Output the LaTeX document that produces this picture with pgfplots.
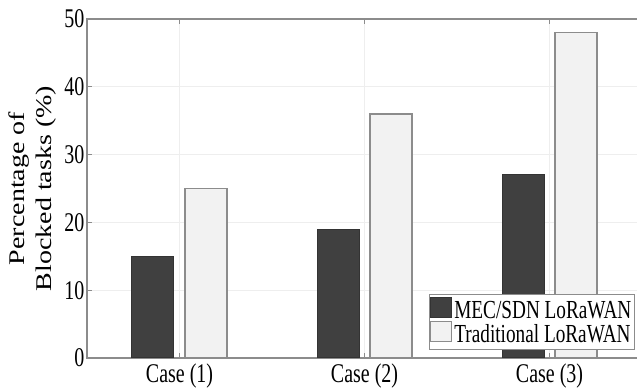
\documentclass[border=0pt]{standalone}
\usepackage{fontspec}
\setmainfont{Liberation Serif}[FakeStretch=0.74]
\newfontfamily\plainserif{Liberation Serif}
\usepackage{pgfplots}
\pgfplotsset{compat=1.18}
\definecolor{darkbar}{HTML}{404040}
\definecolor{lightbar}{HTML}{F2F2F2}
\definecolor{axgray}{HTML}{8C8C8C}
\definecolor{gridgray}{HTML}{EEEEEE}
\begin{document}
\begin{tikzpicture}
\begin{axis}[
  at={(0,0)}, anchor=south west,
  width=555pt, height=339pt, scale only axis,
  xmin=0.5, xmax=3.5, ymin=0, ymax=50,
  ytick={0,10,...,50},
  xtick={1,2,3}, xticklabels={Case (1),Case (2),Case (3)},
  ybar=11pt, bar width=42pt,
  axis line style={axgray, line width=1.2pt},
  tick style={axgray, line width=0.8pt},
  tick align=inside, major tick length=5pt,
  grid=major, grid style={gridgray, line width=0.8pt},
  /pgf/number format/assume math mode=true,
  tick label style={font=\fontsize{27}{29}\selectfont, text=black},
  yticklabel style={xshift=1pt},
  xticklabel style={yshift=-2pt},
  ylabel={\scalebox{1}[0.8]{\plainserif\fontsize{28}{34}\selectfont\begin{tabular}{@{}c@{}}Percentage of\\Blocked tasks (\%)\end{tabular}}},
  ylabel style={yshift=-2pt},
  legend style={at={(axis description cs:0.987,0.024)}, anchor=south east, draw=axgray, line width=1pt, font=\fontsize{26}{26}\selectfont, inner xsep=1pt, inner ysep=3pt, row sep=-1pt, cells={anchor=west}},
  every axis plot post/.append style={legend image code/.code={\draw[##1, line width=1pt] (0pt,-7pt) rectangle (21pt,13pt);}},
]
\addplot[fill=darkbar, draw=darkbar!80!black, line width=1pt] coordinates {(1,15) (2,19) (3,27)};
\addplot[fill=lightbar, draw=axgray, line width=1.2pt] coordinates {(1,25) (2,36) (3,48)};
\legend{MEC/SDN LoRaWAN, Traditional LoRaWAN}
\end{axis}
\pgfresetboundingbox
\path[use as bounding box] (-87pt,-32pt) rectangle (550pt,358pt);
\end{tikzpicture}
\end{document}
